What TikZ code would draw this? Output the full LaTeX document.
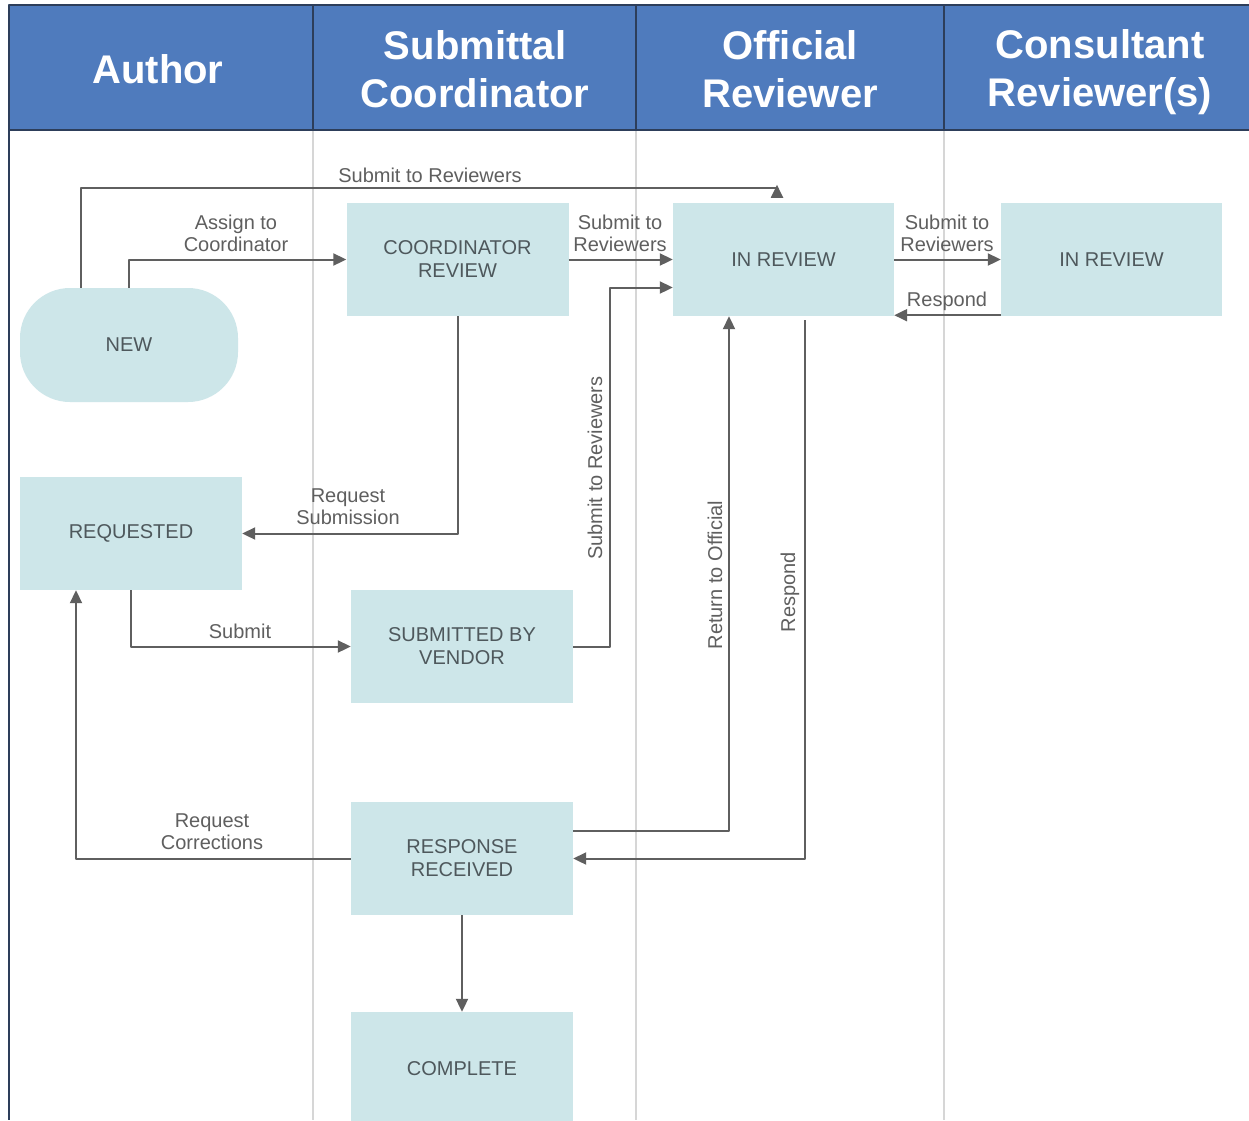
\documentclass[tikz,border=0pt]{standalone}
\usepackage{fontspec}
\setmainfont{Liberation Sans}
\usetikzlibrary{arrows.meta}
\definecolor{headblue}{RGB}{79,123,189}
\definecolor{headline}{RGB}{45,62,90}
\definecolor{boxteal}{RGB}{205,230,233}
\definecolor{flowgray}{RGB}{95,95,95}
\definecolor{lanegray}{RGB}{214,214,214}
\definecolor{textgray}{RGB}{78,88,92}
\tikzset{
  state/.style={fill=boxteal, minimum width=222pt, minimum height=113pt, inner sep=0pt,
    align=center, text=textgray, font=\fontsize{20pt}{23pt}\selectfont},
  lane/.style={draw=lanegray, line width=1.4pt},
  flow/.style={draw=flowgray, line width=2pt, -{Triangle[length=13pt,width=12pt]}},
  lbl/.style={text=flowgray, align=center, inner sep=0pt, font=\fontsize{20pt}{22pt}\selectfont},
  head/.style={text=white, align=center, inner sep=0pt, font=\fontsize{40pt}{48pt}\selectfont\bfseries}
}
\begin{document}
\begin{tikzpicture}[x=1pt, y=-1pt, line join=round]
		\useasboundingbox (0,0) rectangle (1249,1120);
		% Swimlanes
		\fill[white] (0,0) rectangle (1249,1120);
		\fill[headblue] (9,5) rectangle (1249,130);
		\foreach \lx in {313,636,944} {
			\draw[lane] (\lx,130) -- (\lx,1120);
			\draw[headline, line width=1.6pt] (\lx,5) -- (\lx,130);
		}
		\draw[headline, line width=1.6pt] (1249,5) -- (9,5) -- (9,1120);
		\draw[headline, line width=1.6pt] (9,130) -- (1249,130);
		\node[head] (hauthor) at (158,69) {Author};
		\node[head] (hcoord) at (475,69) {Submittal\\Coordinator};
		\node[head] (hoff) at (790,69) {Official\\Reviewer};
		\node[head] (hcons) at (1100,72) {Consultant\\Reviewer(s)};
		% States
		\node[state, minimum width=218pt, minimum height=114pt, rounded corners=50pt] (new) at (129,345) {NEW};
		\node[state] (coord) at (457.5,259.5) {COORDINATOR\\REVIEW};
		\node[state, minimum width=221pt] (offrev) at (783.5,259.5) {IN REVIEW};
		\node[state, minimum width=221pt] (conrev) at (1111.5,259.5) {IN REVIEW};
		\node[state] (req) at (131,533.5) {REQUESTED};
		\node[state] (subven) at (462,646.5) {SUBMITTED BY\\VENDOR};
		\node[state] (resp) at (462,858.5) {RESPONSE\\RECEIVED};
		\node[state] (done) at (462,1068.5) {COMPLETE};
		% Transitions
		\draw[flow, -{Triangle[length=13pt,width=12pt,reversed]}] ([xshift=-48pt]new.north) -- ++(0,-100)
			-| ([xshift=-6.5pt,yshift=5pt]offrev.north);
		\draw[flow] (new.north) |- (coord.west);
		\draw[flow] (coord.east) -- (offrev.west);
		\draw[flow] (coord.south) |- (req.east);
		\draw[flow] (req.south) |- (subven.west);
		\draw[flow] (subven.east) -- ++(37,0) |- ([yshift=-28pt]offrev.west);
		\draw[flow] ([yshift=28pt]resp.east) -| ([xshift=-54.5pt]offrev.south);
		\draw[flow] ([xshift=21.5pt,yshift=-4pt]offrev.south) |- (resp.east);
		\draw[flow] (resp.west) -| ([xshift=-55pt]req.south);
		\draw[flow] (resp.south) -- (done.north);
		\draw[flow] (offrev.east) -- (conrev.west);
		\draw[flow] ([yshift=1pt]conrev.south west) -- ([yshift=1pt]offrev.south east);
		% Labels
		\node[lbl] (ltop) at (430,175) {Submit to Reviewers};
		\node[lbl] (lassign) at (236,233) {Assign to\\Coordinator};
		\node[lbl] (lsub1) at (620,233) {Submit to\\Reviewers};
		\node[lbl] (lreqsub) at (348,507) {Request\\Submission};
		\node[lbl] (lsubmit) at (240,631) {Submit};
		\node[lbl, rotate=90] (lsub2) at (595,468) {Submit to Reviewers};
		\node[lbl, rotate=90] (lreturn) at (715,575) {Return to Official};
		\node[lbl, rotate=90] (lresp1) at (790,592) {Respond};
		\node[lbl] (lcorr) at (212,832) {Request\\Corrections};
		\node[lbl] (lsub3) at (947,233) {Submit to\\Reviewers};
		\node[lbl] (lresp2) at (947,301) {Respond};
	\end{tikzpicture}
\end{document}
